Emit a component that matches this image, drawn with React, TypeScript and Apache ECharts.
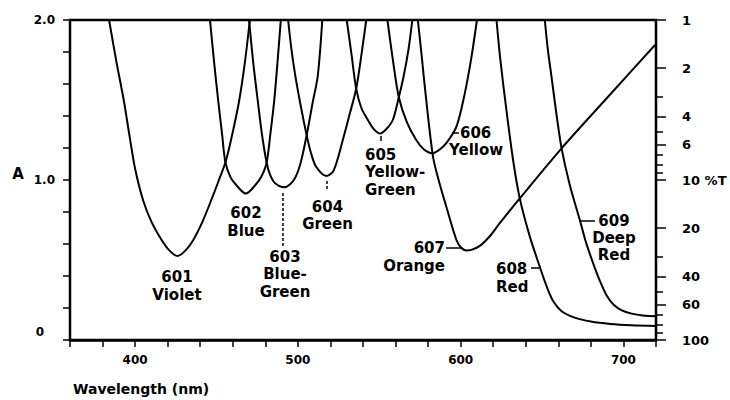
import React, { useEffect, useRef } from 'react';
import * as echarts from 'echarts';

// ---- data (wavelength nm, absorbance A) ----
const wavelengthTickLabels = [400, 500, 600, 700];
const absorbanceTickLabels = [0, 1, 2];
const transmittanceMajor = [1, 2, 4, 6, 10, 20, 40, 60, 100];
const transmittanceMinor = [3, 5, 7, 8, 9, 30, 50, 70, 80, 90];

const filter601Violet = [
  [384, 2], [388.5, 1.74], [393, 1.5], [396.5, 1.28], [400, 1.07], [405, 0.87], [410, 0.74],
  [416, 0.63], [421, 0.56], [426, 0.525], [431, 0.56], [436, 0.63], [441, 0.73], [447, 0.88],
  [451.5, 1.0], [455.8, 1.12], [460, 1.3], [464, 1.5], [467.5, 1.74], [470.5, 2],
];
const filter602Blue = [
  [446, 2], [448.5, 1.74], [451, 1.5], [453.5, 1.28], [455.4, 1.114], [458.5, 1.02], [462, 0.97],
  [468, 0.915], [474, 0.97], [477.5, 1.02], [480.8, 1.108], [483, 1.28], [485.5, 1.5], [487.5, 1.74], [489.5, 2],
];
const filter603BlueGreen = [
  [470, 2], [472.5, 1.74], [475.3, 1.5], [478, 1.28], [480.8, 1.108], [483, 1.03], [486, 0.98],
  [491.7, 0.955], [497.5, 1.0], [501.5, 1.1], [505.4, 1.28], [509, 1.48], [512.2, 1.65], [515, 2],
];
const filter604Green = [
  [494, 2], [496, 1.82], [498.5, 1.646], [502, 1.45], [505.4, 1.28], [508, 1.17], [511.2, 1.083],
  [517.7, 1.025], [522, 1.06], [527.6, 1.25], [531.5, 1.4], [535.8, 1.57], [539, 1.78], [542, 2],
];
const filter605YellowGreen = [
  [530, 2], [533, 1.78], [535.8, 1.573], [539, 1.45], [543, 1.375], [546.5, 1.32], [550.6, 1.29],
  [554.5, 1.32], [558.3, 1.375], [562, 1.517], [565, 1.65], [568, 1.82], [570.3, 2],
];
const filter606Yellow = [
  [555, 2], [558.5, 1.74], [562, 1.517], [567, 1.36], [572.7, 1.25], [577.5, 1.19], [582.6, 1.167],
  [587, 1.19], [591.2, 1.23], [597.4, 1.333], [602.5, 1.54], [606.5, 1.76], [610, 2],
];
const filter607Orange = [
  [573.7, 2], [576, 1.78], [578, 1.58], [583, 1.146], [587, 0.98], [591.2, 0.833], [597.4, 0.625],
  [600.5, 0.575], [603.5, 0.56], [607, 0.565], [612, 0.59], [618, 0.65], [624, 0.73], [636.3, 0.885],
  [662, 1.198], [690, 1.514], [719.4, 1.844],
];
const filter608Red = [
  [622, 2], [624.4, 1.75], [628.1, 1.4375], [632.2, 1.125], [636.3, 0.885], [642.5, 0.646],
  [648.6, 0.458], [653, 0.33], [657, 0.24], [662, 0.18], [670, 0.14], [680, 0.115], [692, 0.1],
  [705, 0.092], [720, 0.088],
];
const filter609DeepRed = [
  [651.7, 2], [653.5, 1.82], [655.8, 1.646], [659, 1.4], [662, 1.198], [667, 0.97], [673.2, 0.75],
  [677, 0.61], [681.4, 0.479], [685.5, 0.37], [689.6, 0.28], [694, 0.22], [699, 0.185], [705, 0.165],
  [712, 0.153], [720, 0.148],
];

const filterSeries = [
  { name: '601 Violet', data: filter601Violet },
  { name: '602 Blue', data: filter602Blue },
  { name: '603 Blue-Green', data: filter603BlueGreen },
  { name: '604 Green', data: filter604Green },
  { name: '605 Yellow-Green', data: filter605YellowGreen },
  { name: '606 Yellow', data: filter606Yellow },
  { name: '607 Orange', data: filter607Orange },
  { name: '608 Red', data: filter608Red },
  { name: '609 Deep Red', data: filter609DeepRed },
];

const toA = (t: number) => 2 - Math.log10(t);
const FONT = '"DejaVu Sans", sans-serif';

export default function App() {
  const ref = useRef<HTMLDivElement>(null);

  useEffect(() => {
    document.body.style.margin = '0';
    if (!ref.current) return;
    const chart = echarts.init(ref.current, undefined, { renderer: 'svg' });

    const labelStyle = (text: string, x: number, y: number, align: string, extra: any = {}) => ({
      type: 'text',
      x,
      y,
      style: {
        text,
        fill: '#000',
        fontFamily: FONT,
        fontWeight: 'bold',
        fontSize: 15,
        lineHeight: 17.5,
        align,
        verticalAlign: 'top',
        ...extra,
      },
    });
    const leader = (x1: number, y1: number, x2: number, y2: number, dash?: number[]) => ({
      type: 'line',
      shape: { x1, y1, x2, y2 },
      style: { stroke: '#000', lineWidth: 1.5, lineDash: dash },
    });

    const option: any = {
      animation: false,
      grid: {
        left: 70,
        right: 74,
        top: 20,
        bottom: 60,
        show: true,
        borderColor: '#000',
        borderWidth: 2.5,
        outerBoundsMode: 'none',
      },
      xAxis: {
        type: 'value',
        min: 360,
        max: 720,
        interval: 20,
        axisLine: { lineStyle: { color: '#000', width: 2.5 } },
        axisTick: { length: 7, lineStyle: { color: '#000', width: 1.5 } },
        splitLine: { show: false },
        axisLabel: {
          margin: 14,
          color: '#000',
          fontFamily: FONT,
          fontWeight: 'bold',
          fontSize: 12,
          formatter: (v: number) => (wavelengthTickLabels.includes(v) ? String(v) : ''),
        },
      },
      yAxis: [
        {
          type: 'value',
          position: 'left',
          min: 0,
          max: 2,
          interval: 0.2,
          axisLine: { show: true, lineStyle: { color: '#000', width: 2 } },
          axisTick: { show: true, length: 7, lineStyle: { color: '#000', width: 1.5 } },
          splitLine: { show: false },
          axisLabel: {
            customValues: absorbanceTickLabels,
            margin: 15,
            color: '#000',
            fontFamily: FONT,
            fontWeight: 'bold',
            fontSize: 12,
            formatter: (v: number) => (v === 0 ? '{z|0}' : '{n|' + v.toFixed(1) + '}'),
            rich: {
              z: { fontFamily: FONT, fontWeight: 'bold', fontSize: 12, color: '#000', padding: [0, 11, 16, 0] },
              n: { fontFamily: FONT, fontWeight: 'bold', fontSize: 12, color: '#000' },
            },
          },
        },
        {
          type: 'value',
          position: 'right',
          min: 0,
          max: 2,
          axisLine: { show: true, lineStyle: { color: '#000', width: 1.5 } },
          axisTick: {
            show: true,
            customValues: transmittanceMajor.map(toA),
            length: 10,
            lineStyle: { color: '#000', width: 1.5 },
          },
          splitLine: { show: false },
          axisLabel: {
            customValues: transmittanceMajor.map(toA),
            margin: 26,
            color: '#000',
            fontFamily: FONT,
            fontWeight: 'bold',
            fontSize: 13,
            formatter: (v: number) => {
              const t = Math.round(Math.pow(10, 2 - v));
              return t === 10 ? '10 %T' : String(t);
            },
          },
        },
        {
          type: 'value',
          position: 'right',
          min: 0,
          max: 2,
          axisLine: { show: false },
          axisTick: {
            show: true,
            customValues: transmittanceMinor.map(toA),
            length: 7,
            lineStyle: { color: '#000', width: 1.5 },
          },
          splitLine: { show: false },
          axisLabel: { show: false },
        },
      ],
      series: filterSeries.map((f) => ({
        type: 'line',
        name: f.name,
        data: f.data,
        yAxisIndex: 0,
        showSymbol: false,
        smooth: 0.3,
        lineStyle: { color: '#000', width: 2 },
        emphasis: { disabled: true },
      })),
      graphic: [
        labelStyle('A', 18, 174, 'center', { verticalAlign: 'middle', fontSize: 15 }),
        labelStyle('Wavelength (nm)', 73, 389, 'left', { verticalAlign: 'middle', fontSize: 14 }),
        labelStyle('601\nViolet', 177, 268, 'center', { lineHeight: 18 }),
        labelStyle('602\nBlue', 246, 204, 'center', { lineHeight: 18 }),
        labelStyle('603\nBlue-\nGreen', 285, 248, 'center'),
        labelStyle('604\nGreen', 327.5, 198, 'center', { lineHeight: 17 }),
        labelStyle('605\nYellow-\nGreen', 365, 146, 'left'),
        labelStyle('606', 460, 124, 'left'),
        labelStyle('Yellow', 449, 141, 'left'),
        labelStyle('607\nOrange', 445, 239, 'right', { lineHeight: 18 }),
        labelStyle('608\nRed', 496, 260, 'left', { lineHeight: 18 }),
        labelStyle('609\nDeep\nRed', 614, 212, 'center', { lineHeight: 17 }),
        leader(283, 193, 283, 247, [3, 2]),
        leader(327, 181, 327, 191, [3, 2]),
        leader(381, 136, 381, 141),
        leader(452, 133, 459, 133),
        leader(446, 248, 462, 248),
        leader(531, 268, 541, 268),
        leader(581, 221, 595, 221),
      ],
    };

    chart.setOption(option);
    return () => chart.dispose();
  }, []);

  return <div ref={ref} style={{ width: 730, height: 400 }} />;
}
